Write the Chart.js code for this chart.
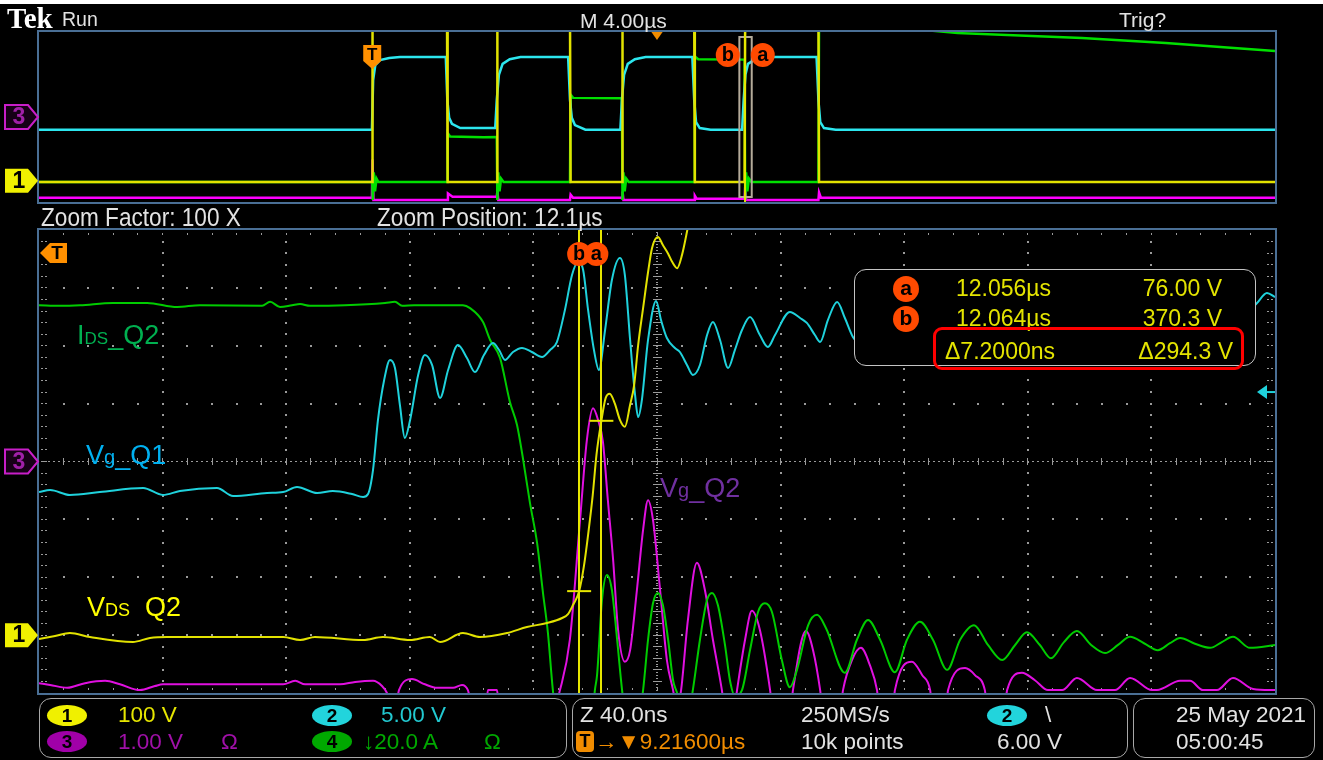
<!DOCTYPE html>
<html>
<head>
<meta charset="utf-8">
<script src="https://cdn.jsdelivr.net/npm/chart.js@4/dist/chart.umd.min.js"></script>
<style>
  html, body { margin: 0; padding: 0; background: #000; }
  #scope { position: relative; width: 1323px; height: 760px; background: #000; overflow: hidden; }
  #scope canvas { position: absolute; left: 0; top: 0; }
  .t { position: absolute; white-space: nowrap; line-height: 1; font-family: "Liberation Sans", Arial, sans-serif; }
  .ui { color: #e2e2e2; font-size: 22.5px; }
  .badge { position: absolute; width: 40px; height: 21px; border-radius: 50%; color: #000;
           font: bold 19px "Liberation Sans", Arial, sans-serif; text-align: center; line-height: 21px; }
  .panel { position: absolute; border: 1.5px solid #a8a8a8; border-radius: 12px; box-sizing: border-box; }
  .dot { position: absolute; width: 26px; height: 26px; border-radius: 50%; background: #ff4a00; color: #000;
         font: bold 21px "Liberation Sans", Arial, sans-serif; text-align: center; line-height: 24px; }
  .lbl { font-size: 27px; }
</style>
</head>
<body>
<div id="scope">
  <canvas id="zoomPane" width="1323" height="760"></canvas>
  <canvas id="recordPane" width="1323" height="760"></canvas>

  <div style="position:absolute;left:0;top:0;width:1323px;height:4px;background:#fff"></div>
  <div class="t" style="left:7px;top:4px;font:bold 29px 'Liberation Serif','DejaVu Serif',serif;color:#fff;line-height:1">Tek</div>
  <div class="t ui" style="left:62px;top:10px;font-size:19.5px">Run</div>
  <div class="t ui" style="left:580px;top:10px;font-size:21px">M 4.00µs</div>
  <div class="t ui" style="left:1119px;top:9px;font-size:21px">Trig?</div>
  <div class="t ui" style="left:41px;top:204px;font-size:26px;transform:scaleX(0.87);transform-origin:0 0">Zoom Factor: 100 X</div>
  <div class="t ui" style="left:377px;top:204px;font-size:26px;transform:scaleX(0.87);transform-origin:0 0">Zoom Position: 12.1µs</div>

  <!-- trace names -->
  <div class="t lbl" style="left:77px;top:322px;color:#00b050">I<span style="font-size:17px">DS</span>_Q2</div>
  <div class="t lbl" style="left:86px;top:442px;color:#00b0f0">V<span style="font-size:20px">g</span>_Q1</div>
  <div class="t lbl" style="left:87px;top:594px;color:#ffff00">V<span style="font-size:18px">DS</span>&nbsp;&nbsp;Q2</div>
  <div class="t lbl" style="left:660px;top:475px;color:#7030a0">V<span style="font-size:20px">g</span>_Q2</div>

  <!-- cursor readout -->
  <div style="position:absolute;left:854px;top:269px;width:402px;height:97px;border:1.5px solid #c4c4c4;border-radius:12px;background:#000;box-sizing:border-box"></div>
  <div class="dot" style="left:893px;top:276px">a</div>
  <div class="dot" style="left:893px;top:306px">b</div>
  <div id="rdA_t" class="t" style="left:956px;top:277px;font-size:23px;color:#e4e400"></div>
  <div id="rdA_v" class="t" style="right:101px;top:277px;font-size:23px;color:#e4e400"></div>
  <div id="rdB_t" class="t" style="left:956px;top:307px;font-size:23px;color:#e4e400"></div>
  <div id="rdB_v" class="t" style="right:101px;top:307px;font-size:23px;color:#e4e400"></div>
  <div id="rdD_t" class="t" style="left:945px;top:340px;font-size:23px;color:#e4e400"></div>
  <div id="rdD_v" class="t" style="right:90px;top:340px;font-size:23px;color:#e4e400"></div>
  <div style="position:absolute;left:933px;top:327px;width:311px;height:43px;border:3.5px solid #ff0000;border-radius:9px;box-sizing:border-box"></div>

  <!-- status bar -->
  <div class="panel" style="left:39px;top:698px;width:528px;height:60px"></div>
  <div class="panel" style="left:572px;top:698px;width:556px;height:60px"></div>
  <div class="panel" style="left:1133px;top:698px;width:182px;height:60px"></div>

  <div class="badge" style="left:47px;top:705px;background:#f0f000">1</div>
  <div class="t ui" style="left:118px;top:704px;color:#e6e600">100 V</div>
  <div class="badge" style="left:312px;top:705px;background:#22d4dc">2</div>
  <div class="t ui" style="left:381px;top:704px;color:#22c8d0">5.00 V</div>
  <div class="badge" style="left:47px;top:731px;background:#a000a8">3</div>
  <div class="t ui" style="left:118px;top:731px;color:#a010a8">1.00 V</div>
  <div class="t ui" style="left:221px;top:731px;color:#a010a8">Ω</div>
  <div class="badge" style="left:312px;top:731px;background:#00a800">4</div>
  <div class="t ui" style="left:363px;top:731px;color:#00a800">↓20.0 A</div>
  <div class="t ui" style="left:484px;top:731px;color:#00a800">Ω</div>

  <div class="t ui" style="left:580px;top:704px">Z 40.0ns</div>
  <div style="position:absolute;left:576px;top:731px;width:18px;height:21px;border-radius:4px;background:#f08c00;color:#000;font:bold 18px 'Liberation Sans',Arial,sans-serif;text-align:center;line-height:21px">T</div>
  <div class="t ui" style="left:595px;top:731px;color:#f08c00">→▼9.21600µs</div>
  <div class="t ui" style="left:801px;top:704px">250MS/s</div>
  <div class="t ui" style="left:801px;top:731px">10k points</div>
  <div class="badge" style="left:987px;top:705px;background:#22d4dc">2</div>
  <div class="t ui" style="left:1045px;top:704px">\</div>
  <div class="t ui" style="left:997px;top:731px">6.00 V</div>
  <div class="t ui" style="left:1176px;top:704px">25 May 2021</div>
  <div class="t ui" style="left:1176px;top:731px">05:00:45</div>
</div>

<script>
// ---------------- acquisition settings ----------------
const recordStartUs = -10.784;           // left edge of the 40 µs record (trigger at 0)
const recordSpanUs = 40;                 // 4.00 µs/div x 10 div
const triggerPosUs = 9.216;              // T -> expansion point
const zoomStartNs = 11881.6;             // left edge of the zoom window
const nsPerDiv = 40;                     // Z 40.0 ns/div
const zoomSpanNs = nsPerDiv * 10;
const cursorTimesNs = [12056.4, 12063.6];  // cursors a, b
const cursorVolts = [76.00, 370.3];         // ch1 at cursors a, b
const triggerLevelV = 6.00;                 // ch2 trigger level

// ---------------- zoom window traces: [time ns, value] ----------------
// CH1 V_DS (V, 100 V/div)
const zoomVds = [[11881.6,-6.7],[11886.8,-1.6],[11891.6,3.6],[11898.1,-3.3],[11912.0,-11.9],[11917.5,-5.0],[11923.0,-3.3],
  [11960.6,-3.3],[11966.1,-8.5],[11970.9,-3.3],[11986.5,-8.5],[11992.9,-3.3],[12001.7,-8.5],[12008.1,-3.3],[12011.4,-11.9],
  [12018.8,3.6],[12024.3,-3.3],[12033.1,3.6],[12039.5,14.0],[12046.0,20.9],[12050.9,29.6],[12052.8,36.5],[12054.4,52.0],
  [12056.4,76.0],[12058.0,121],[12059.5,182],[12060.8,242],[12062.0,311],[12063.6,370.3],[12065.0,410],[12066.3,417],
  [12067.9,401],[12069.6,372],[12071.2,360],[12072.9,398],[12074.2,432],[12075.5,501],[12077.1,565],[12078.7,627],
  [12080.0,669],[12081.9,688],[12083.5,674],[12085.2,659],[12086.5,645],[12088.1,634],[12089.7,657],[12091.3,697],
  [12092.9,743],[12094.5,800]];
// CH2 V_g Q1 (V, 5 V/div)
const zoomVgQ1 = [[11881.6,-2.64],[11885.2,-2.46],[11891.6,-2.89],[11901.3,-2.64],[11915.3,-2.29],[11921.7,-2.89],[11927.2,-2.55],
  [11939.2,-2.29],[11944.4,-2.98],[11955.4,-2.72],[11960.6,-2.64],[11965.1,-2.20],[11971.6,-2.72],[11976.7,-2.55],[11982.9,-2.81],
  [11986.5,-3.07],[11988.1,-2.81],[11989.7,-0.73],[11991.3,3.59],[11993.3,7.04],[11995.2,8.77],[11996.8,8.08],[11998.4,4.88],
  [12000.0,2.03],[12001.7,3.59],[12004.3,7.47],[12006.5,9.20],[12008.8,8.34],[12011.4,5.49],[12014.0,7.91],[12017.2,10.06],
  [12020.1,8.94],[12022.7,7.73],[12025.6,9.20],[12028.5,10.24],[12030.5,9.63],[12032.4,8.77],[12035.0,9.46],[12037.9,9.81],
  [12041.1,9.46],[12044.4,9.03],[12047.0,9.63],[12049.2,10.32],[12051.8,13.09],[12054.1,16.11],[12056.0,17.24],[12057.7,16.54],
  [12059.3,13.09],[12061.2,9.63],[12062.8,7.91],[12064.8,11.36],[12067.0,15.68],[12069.6,17.58],[12071.2,16.11],[12072.9,10.50],
  [12074.5,5.75],[12075.5,3.84],[12076.7,5.31],[12078.7,10.50],[12081.3,13.87],[12082.9,12.22],[12084.8,10.67],[12087.4,9.81],
  [12089.0,9.46],[12091.3,8.34],[12093.2,7.47],[12095.5,8.34],[12097.8,10.93],[12099.7,12.05],[12102.0,10.50],[12104.6,8.08],
  [12106.8,9.63],[12109.1,11.36],[12111.7,12.48],[12114.9,10.93],[12117.5,9.89],[12119.8,10.93],[12124.6,12.92],[12127.9,12.40],
  [12130.1,11.97],[12132.7,10.93],[12134.4,10.32],[12136.9,12.22],[12139.9,13.78],[12142.4,12.40],[12145.0,10.76],[12147.3,10.06],
  [12210.0,null],[12273.5,13.09],[12275.8,13.69],[12279.0,14.56],[12281.6,14.21]];
// CH3 V_g Q2 (V, 1 V/div)
const zoomVgQ2 = [[11881.6,-3.83],[11885.2,-3.86],[11890.7,-3.91],[11896.5,-3.83],[11903.0,-3.79],[11907.8,-3.85],[11914.3,-3.95],
  [11919.1,-3.88],[11921.7,-3.85],[11943.4,-3.85],[11960.6,-3.85],[11964.5,-3.79],[11967.7,-3.85],[11979.0,-3.85],[11983.9,-3.81],
  [11989.7,-3.79],[11992.6,-3.88],[11994.2,-4.00],[11995.5,-4.21],[11997.1,-4.21],[11998.1,-3.95],[12002.3,-3.76],[12006.5,-3.85],
  [12010.4,-3.91],[12015.6,-3.91],[12018.5,-3.86],[12020.4,-3.95],[12021.7,-4.21],[12026.3,-4.21],[12026.9,-3.95],[12029.8,-3.95],
  [12030.5,-4.21],[12048.6,-4.21],[12050.2,-3.95],[12053.4,-3.08],[12056.7,-1.01],[12058.9,0.37],[12060.9,0.92],[12062.5,0.72],
  [12064.1,0.34],[12065.7,-0.67],[12067.4,-1.70],[12069.0,-2.91],[12071.2,-3.46],[12072.9,-3.26],[12075.1,-2.22],[12077.1,-1.18],
  [12078.7,-0.67],[12080.3,-1.01],[12082.6,-2.22],[12084.8,-3.43],[12086.8,-3.95],[12087.8,-4.21],[12088.4,-4.21],[12089.4,-3.95],
  [12091.6,-2.74],[12094.5,-1.75],[12097.1,-2.22],[12099.7,-3.08],[12102.6,-3.95],[12103.3,-4.21],[12106.8,-4.21],[12107.5,-3.95],
  [12110.1,-3.08],[12112.3,-2.58],[12114.9,-2.91],[12118.2,-3.95],[12118.8,-4.21],[12125.0,-4.21],[12125.6,-3.95],[12129.8,-2.93],
  [12132.1,-3.26],[12134.4,-3.95],[12135.0,-4.21],[12141.1,-4.21],[12141.8,-3.95],[12144.7,-3.43],[12147.6,-3.22],[12150.5,-3.52],
  [12152.8,-3.95],[12153.4,-4.21],[12158.0,-4.21],[12158.6,-3.95],[12164.1,-3.46],[12167.4,-3.69],[12170.0,-3.95],[12170.6,-4.21],
  [12175.1,-4.21],[12175.8,-3.95],[12181.3,-3.57],[12184.5,-3.69],[12187.7,-3.95],[12188.4,-4.21],[12194.2,-4.21],[12194.9,-3.95],
  [12199.7,-3.65],[12203.9,-3.78],[12208.1,-3.95],[12212.7,-3.95],[12217.5,-3.74],[12224.0,-3.95],[12229.8,-3.95],[12234.7,-3.74],
  [12241.8,-3.95],[12243.4,-3.95],[12250.9,-3.79],[12254.1,-3.79],[12258.3,-3.95],[12262.8,-3.95],[12268.0,-3.74],[12274.5,-3.93],
  [12281.6,-3.95]];
// CH4 I_DS Q2 (div, 20 A/div)
const zoomIds = [[11881.6,2.70],[11888.4,2.69],[11894.9,2.70],[11905.5,2.74],[11916.6,2.74],[11926.3,2.67],[11933.7,2.70],
  [11953.8,2.69],[11956.4,2.76],[11959.6,2.67],[11963.5,2.70],[11966.1,2.72],[11969.3,2.69],[11980.6,2.70],[11993.6,2.74],
  [11996.8,2.76],[11999.1,2.69],[12003.0,2.70],[12018.8,2.70],[12021.1,2.65],[12025.3,2.41],[12027.6,2.10],[12030.8,1.79],
  [12034.0,1.03],[12036.3,0.63],[12038.2,0.06],[12040.5,-0.72],[12042.8,-1.41],[12044.7,-2.27],[12046.3,-2.96],[12047.9,-3.95],
  [12049.2,-4.47],[12060.6,-4.47],[12061.5,-3.95],[12062.2,-3.69],[12063.8,-2.39],[12065.4,-1.96],[12067.0,-2.22],[12068.7,-3.08],
  [12070.3,-3.95],[12071.2,-4.29],[12076.1,-4.29],[12077.1,-3.95],[12078.7,-3.08],[12080.3,-2.45],[12081.9,-2.27],[12083.5,-2.48],
  [12085.2,-3.08],[12086.8,-3.78],[12088.1,-4.00],[12089.0,-4.21],[12092.3,-4.21],[12093.2,-3.95],[12095.5,-3.08],[12097.8,-2.39],
  [12099.4,-2.27],[12101.3,-2.48],[12103.6,-3.17],[12105.2,-3.78],[12106.8,-4.05],[12109.1,-3.95],[12111.7,-3.26],[12114.3,-2.60],
  [12116.5,-2.45],[12118.8,-2.60],[12122.0,-3.43],[12124.6,-3.90],[12126.9,-3.60],[12130.5,-2.83],[12133.4,-2.65],[12136.3,-2.88],
  [12142.4,-3.65],[12146.3,-3.08],[12149.9,-2.74],[12153.8,-3.08],[12158.6,-3.64],[12162.5,-3.08],[12166.7,-2.77],[12170.9,-3.08],
  [12175.5,-3.60],[12179.7,-3.08],[12184.2,-2.83],[12188.7,-3.17],[12193.3,-3.43],[12197.5,-3.17],[12201.3,-2.95],[12205.5,-3.17],
  [12209.1,-3.40],[12213.3,-3.12],[12217.5,-2.93],[12222.1,-3.17],[12226.6,-3.31],[12230.8,-3.17],[12234.7,-3.03],[12239.2,-3.14],
  [12243.7,-3.26],[12247.6,-3.14],[12250.9,-3.05],[12255.7,-3.15],[12260.6,-3.22],[12264.4,-3.12],[12268.0,-3.03],[12273.5,-3.22],
  [12281.6,-3.17]];

// ---------------- full record traces: [time µs, value] ----------------
const recVds = [[-10.784,-6],[0.0,-6],[0.01,800],[2.42,800],[2.44,-6],[4.04,-6],[4.05,800],[6.40,800],[6.42,-6],[8.09,-6],
  [8.10,800],[10.42,800],[10.44,-6],[12.05,-6],[12.07,800],[14.44,800],[14.46,-6],[29.216,-6]];
const recVgQ1 = [[-10.784,-3.0],[-0.01,-3.0],[0.03,8.7],[0.10,12.2],[0.25,13.4],[0.55,13.9],[0.9,14.1],[2.38,14.1],[2.43,4.0],
  [2.49,-0.2],[2.58,-1.6],[2.85,-2.6],[3.98,-2.6],[4.03,4.0],[4.10,9.9],[4.22,12.5],[4.45,13.6],[4.80,14.1],[6.34,14.1],[6.40,4.0],
  [6.46,-0.2],[6.56,-1.9],[6.90,-3.0],[8.03,-3.0],[8.08,4.0],[8.15,9.9],[8.27,12.5],[8.50,13.6],[8.85,14.1],[10.36,14.1],[10.42,4.0],
  [10.48,-1.2],[10.60,-2.6],[10.95,-3.0],[11.97,-3.0],[12.02,4.0],[12.08,10.0],[12.16,12.5],[12.40,13.6],[12.75,14.1],[14.38,14.1],
  [14.44,4.0],[14.50,-1.2],[14.62,-2.6],[15.0,-3.0],[29.216,-3.0]];
const recVgQ2 = [[-10.784,-3.8],[-0.01,-3.8],[0.01,-2.0],[0.04,-3.9],[2.42,-3.9],[2.45,-3.6],[2.6,-3.75],[4.03,-3.75],[4.05,-3.5],
  [4.08,-3.9],[6.40,-3.9],[6.42,-3.65],[6.5,-3.8],[8.09,-3.8],[8.10,-3.5],[8.13,-3.9],[10.42,-3.9],[10.44,-3.7],[10.5,-3.85],
  [12.05,-3.85],[12.07,-3.3],[12.10,-3.9],[14.44,-3.9],[14.46,-3.55],[14.52,-3.8],[29.216,-3.8]];
const recIds = [[-10.784,-3.06],[0.0,-3.06],[0.02,-3.9],[0.05,-2.6],[0.09,-3.5],[0.14,-2.9],[0.2,-3.06],[2.42,-3.06],[2.44,-0.75],
  [2.52,-0.92],[3.6,-0.95],[4.03,-0.94],[4.05,-3.9],[4.08,-2.6],[4.12,-3.5],[4.17,-2.9],[4.25,-3.06],[6.40,-3.06],[6.42,1.05],
  [6.50,0.9],[8.08,0.88],[8.10,-3.9],[8.13,-2.6],[8.17,-3.5],[8.22,-2.9],[8.30,-3.06],[10.42,-3.06],[10.44,2.85],[10.55,2.72],
  [12.05,2.70],[12.07,-3.9],[12.10,-2.6],[12.14,-3.5],[12.19,-2.9],[12.27,-3.06],[14.44,-3.06],[14.46,4.55],[18.95,3.95],
  [22.97,3.72],[25.68,3.48],[29.216,3.11]];

// ---------------- colours ----------------
const C1 = '#e2e200', C2 = '#1fd2dc', C3 = '#e010e0', C4 = '#00cc00';
const FRAME = '#4a6f95', DOTS = '#9a9a9a', CURSOR = '#e6e600', TAG = '#ff4a00', TRIG = '#f08c00';

// readout text from the cursor values
const fmt = (v, d) => v.toFixed(d);
document.getElementById('rdA_t').textContent = fmt(cursorTimesNs[0] / 1000, 3) + 'µs';
document.getElementById('rdB_t').textContent = fmt(cursorTimesNs[1] / 1000, 3) + 'µs';
document.getElementById('rdA_v').textContent = fmt(cursorVolts[0], 2) + ' V';
document.getElementById('rdB_v').textContent = fmt(cursorVolts[1], 1) + ' V';
document.getElementById('rdD_t').textContent = '\u0394' + fmt(cursorTimesNs[1] - cursorTimesNs[0], 4) + 'ns';
document.getElementById('rdD_v').textContent = '\u0394' + fmt(cursorVolts[1] - cursorVolts[0], 1) + ' V';

const pts = arr => arr.map(([x, y]) => ({ x, y }));
const trace = (arr, color, axis, width) => ({
  data: pts(arr), borderColor: color, borderWidth: width, pointRadius: 0,
  yAxisID: axis, fill: false, spanGaps: false
});
const hiddenY = (min, max) => ({ type: 'linear', min, max, display: false });

// ---------------- drawing helpers ----------------
function chanMarker(ctx, y, label, fill, stroke, textColor) {
  ctx.save();
  ctx.beginPath();
  ctx.moveTo(5, y - 12); ctx.lineTo(28, y - 12); ctx.lineTo(38, y); ctx.lineTo(28, y + 12); ctx.lineTo(5, y + 12);
  ctx.closePath();
  ctx.fillStyle = fill; ctx.fill();
  if (stroke) { ctx.strokeStyle = stroke; ctx.lineWidth = 2; ctx.stroke(); }
  ctx.fillStyle = textColor;
  ctx.font = 'bold 23px "Liberation Sans", Arial, sans-serif';
  ctx.textAlign = 'center'; ctx.textBaseline = 'middle';
  ctx.fillText(label, 19, y + 1);
  ctx.restore();
}
function tag(ctx, x, y, letter) {
  ctx.save();
  ctx.beginPath(); ctx.arc(x, y, 12, 0, Math.PI * 2);
  ctx.fillStyle = TAG; ctx.fill();
  ctx.fillStyle = '#000';
  ctx.font = 'bold 20px "Liberation Sans", Arial, sans-serif';
  ctx.textAlign = 'center'; ctx.textBaseline = 'middle';
  ctx.fillText(letter, x, y);
  ctx.restore();
}
function frame(ctx, a) {
  ctx.save();
  ctx.strokeStyle = FRAME; ctx.lineWidth = 2;
  ctx.strokeRect(a.left - 1, a.top - 1, a.right - a.left + 2, a.bottom - a.top + 2);
  ctx.restore();
}

// ---------------- zoom pane ----------------
const zoomGraticule = {
  id: 'zoomGraticule',
  beforeDatasetsDraw(chart) {
    const { ctx, chartArea: a, scales } = chart;
    const xAt = d => scales.x.getPixelForValue(zoomStartNs + d * nsPerDiv);
    const yAt = d => scales.yDiv.getPixelForValue(d);
    const sq = (x, y, w, h) => ctx.fillRect(Math.round(x - w / 2), Math.round(y - h / 2), w, h);
    ctx.save();
    ctx.fillStyle = DOTS;
    for (let k = 1; k < 10; k++) {
      if (k === 5) continue;
      for (let m = 1; m < 40; m++) sq(xAt(k), yAt(-4 + m / 5), 2, 2);
    }
    for (let j = -3; j <= 3; j++) {
      if (j === 0) continue;
      for (let m = 1; m < 50; m++) sq(xAt(m / 5), yAt(j), 2, 2);
    }
    const cx = xAt(5), cy = yAt(0);
    for (let m = 1; m < 250; m++) sq(xAt(m / 25), cy, 2, 1);
    for (let m = 1; m < 160; m++) sq(cx, yAt(-4 + m / 20), 2, 1);
    for (let m = 1; m < 50; m++) sq(xAt(m / 5), cy, 1, 7);
    for (let m = 1; m < 40; m++) sq(cx, yAt(-4 + m / 5), 9, 1);
    for (let m = 1; m < 40; m++) {
      const y = yAt(-4 + m / 5);
      sq(a.left + 3, y, 2, 1); sq(a.left + 7, y, 2, 1);
      sq(a.right - 3, y, 2, 1); sq(a.right - 7, y, 2, 1);
    }
    for (let m = 1; m < 50; m++) {
      const x = xAt(m / 5);
      sq(x, a.top + 4, 1, 2); sq(x, a.bottom - 4, 1, 2);
    }
    ctx.restore();
  },
  afterDatasetsDraw(chart) {
    const { ctx, chartArea: a, scales } = chart;
    const xA = scales.x.getPixelForValue(cursorTimesNs[0]);
    const xB = scales.x.getPixelForValue(cursorTimesNs[1]);
    ctx.save();
    // cursors and their crosshairs on CH1
    ctx.strokeStyle = CURSOR; ctx.lineWidth = 2;
    [xA, xB].forEach((x, i) => {
      ctx.beginPath(); ctx.moveTo(Math.round(x), a.top); ctx.lineTo(Math.round(x), a.bottom); ctx.stroke();
      const y = scales.yV1.getPixelForValue(cursorVolts[i]);
      ctx.beginPath(); ctx.moveTo(x - 12, y); ctx.lineTo(x + 12, y); ctx.stroke();
    });
    tag(ctx, xA, a.top + 24, 'b');
    tag(ctx, xB - 5, a.top + 24, 'a');
    // trigger level (CH2)
    const yT = scales.yV2.getPixelForValue(triggerLevelV);
    ctx.fillStyle = C2; ctx.strokeStyle = C2; ctx.lineWidth = 2;
    ctx.beginPath(); ctx.moveTo(a.right - 18, yT); ctx.lineTo(a.right - 8, yT - 7); ctx.lineTo(a.right - 8, yT + 7); ctx.closePath(); ctx.fill();
    ctx.beginPath(); ctx.moveTo(a.right - 9, yT); ctx.lineTo(a.right, yT); ctx.stroke();
    // trigger point lies left of the window
    ctx.fillStyle = '#ff9000';
    ctx.beginPath();
    ctx.moveTo(a.left + 1, a.top + 23); ctx.lineTo(a.left + 11, a.top + 13); ctx.lineTo(a.left + 28, a.top + 13);
    ctx.lineTo(a.left + 28, a.top + 33); ctx.lineTo(a.left + 11, a.top + 33); ctx.closePath(); ctx.fill();
    ctx.fillStyle = '#000'; ctx.font = 'bold 19px "Liberation Sans", Arial, sans-serif';
    ctx.textAlign = 'center'; ctx.textBaseline = 'middle';
    ctx.fillText('T', a.left + 18, a.top + 24);
    ctx.restore();
    frame(ctx, a);
    chanMarker(ctx, scales.yV3.getPixelForValue(0), '3', '#160016', '#c81ec8', '#a020a8');
    chanMarker(ctx, scales.yV1.getPixelForValue(0), '1', '#f0f000', null, '#000');
  }
};

new Chart(document.getElementById('zoomPane'), {
  type: 'line',
  data: {
    datasets: [
      trace(zoomVds, C1, 'yV1', 2),
      trace(zoomVgQ1, C2, 'yV2', 2),
      trace(zoomIds, C4, 'yDiv', 2),
      trace(zoomVgQ2, C3, 'yV3', 2)
    ]
  },
  options: {
    responsive: false, animation: false, devicePixelRatio: 1,
    layout: { padding: { left: 39, top: 230, right: 48, bottom: 67 } },
    elements: { line: { cubicInterpolationMode: 'monotone' } },
    plugins: { legend: { display: false }, tooltip: { enabled: false } },
    events: [],
    scales: {
      x: { type: 'linear', min: zoomStartNs, max: zoomStartNs + zoomSpanNs, display: false },
      yV1: hiddenY(-100, 700),
      yV2: hiddenY(-20, 20),
      yV3: hiddenY(-4, 4),
      yDiv: hiddenY(-4, 4)
    }
  },
  plugins: [zoomGraticule]
});

// ---------------- record (overview) pane ----------------
const recordMarks = {
  id: 'recordMarks',
  afterDatasetsDraw(chart) {
    const { ctx, chartArea: a, scales } = chart;
    const x = v => scales.x.getPixelForValue(v);
    ctx.save();
    // zoom window bracket
    const x0 = x(zoomStartNs / 1000), x1 = x((zoomStartNs + zoomSpanNs) / 1000);
    ctx.strokeStyle = '#b4ab9a'; ctx.lineWidth = 2;
    ctx.strokeRect(x0, a.top + 5, x1 - x0, a.bottom - a.top - 10);
    // cursors
    ctx.strokeStyle = CURSOR; ctx.lineWidth = 1.5;
    cursorTimesNs.forEach(t => {
      const cx = Math.round(x(t / 1000));
      ctx.beginPath(); ctx.moveTo(cx, a.top); ctx.lineTo(cx, a.bottom); ctx.stroke();
    });
    const xc = x(cursorTimesNs[0] / 1000);
    tag(ctx, xc - 17, a.top + 23, 'b');
    tag(ctx, xc + 18, a.top + 23, 'a');
    // trigger point
    const xt = x(0);
    ctx.fillStyle = '#ff9000';
    ctx.beginPath();
    ctx.moveTo(xt - 9, a.top + 13); ctx.lineTo(xt + 9, a.top + 13); ctx.lineTo(xt + 9, a.top + 29);
    ctx.lineTo(xt, a.top + 37); ctx.lineTo(xt - 9, a.top + 29); ctx.closePath(); ctx.fill();
    ctx.fillStyle = '#000'; ctx.font = 'bold 17px "Liberation Sans", Arial, sans-serif';
    ctx.textAlign = 'center'; ctx.textBaseline = 'middle';
    ctx.fillText('T', xt, a.top + 23);
    // expansion point
    const xe = x(triggerPosUs);
    ctx.fillStyle = TRIG;
    ctx.beginPath(); ctx.moveTo(xe - 7, a.top - 2); ctx.lineTo(xe + 7, a.top - 2); ctx.lineTo(xe, a.top + 8); ctx.closePath(); ctx.fill();
    ctx.restore();
    frame(ctx, a);
    chanMarker(ctx, scales.yV3.getPixelForValue(0), '3', '#160016', '#c81ec8', '#a020a8');
    chanMarker(ctx, scales.yV1.getPixelForValue(0), '1', '#f0f000', null, '#000');
  }
};

new Chart(document.getElementById('recordPane'), {
  type: 'line',
  data: {
    datasets: [
      trace(recVds, C1, 'yV1', 2.5),
      trace(recVgQ1, '#2ce6ee', 'yV2', 2.5),
      trace(recIds, '#00e000', 'yDiv', 2.5),
      trace(recVgQ2, '#ff00ff', 'yV3', 2.5)
    ]
  },
  options: {
    responsive: false, animation: false, devicePixelRatio: 1,
    layout: { padding: { left: 39, top: 32, right: 48, bottom: 558 } },
    elements: { line: { tension: 0 } },
    plugins: { legend: { display: false }, tooltip: { enabled: false } },
    events: [],
    scales: {
      x: { type: 'linear', min: recordStartUs, max: recordStartUs + recordSpanUs, display: false },
      yV1: hiddenY(-100, 700),
      yV2: hiddenY(-20, 20),
      yV3: hiddenY(-4, 4),
      yDiv: hiddenY(-4, 4)
    }
  },
  plugins: [recordMarks]
});
</script>
</body>
</html>
